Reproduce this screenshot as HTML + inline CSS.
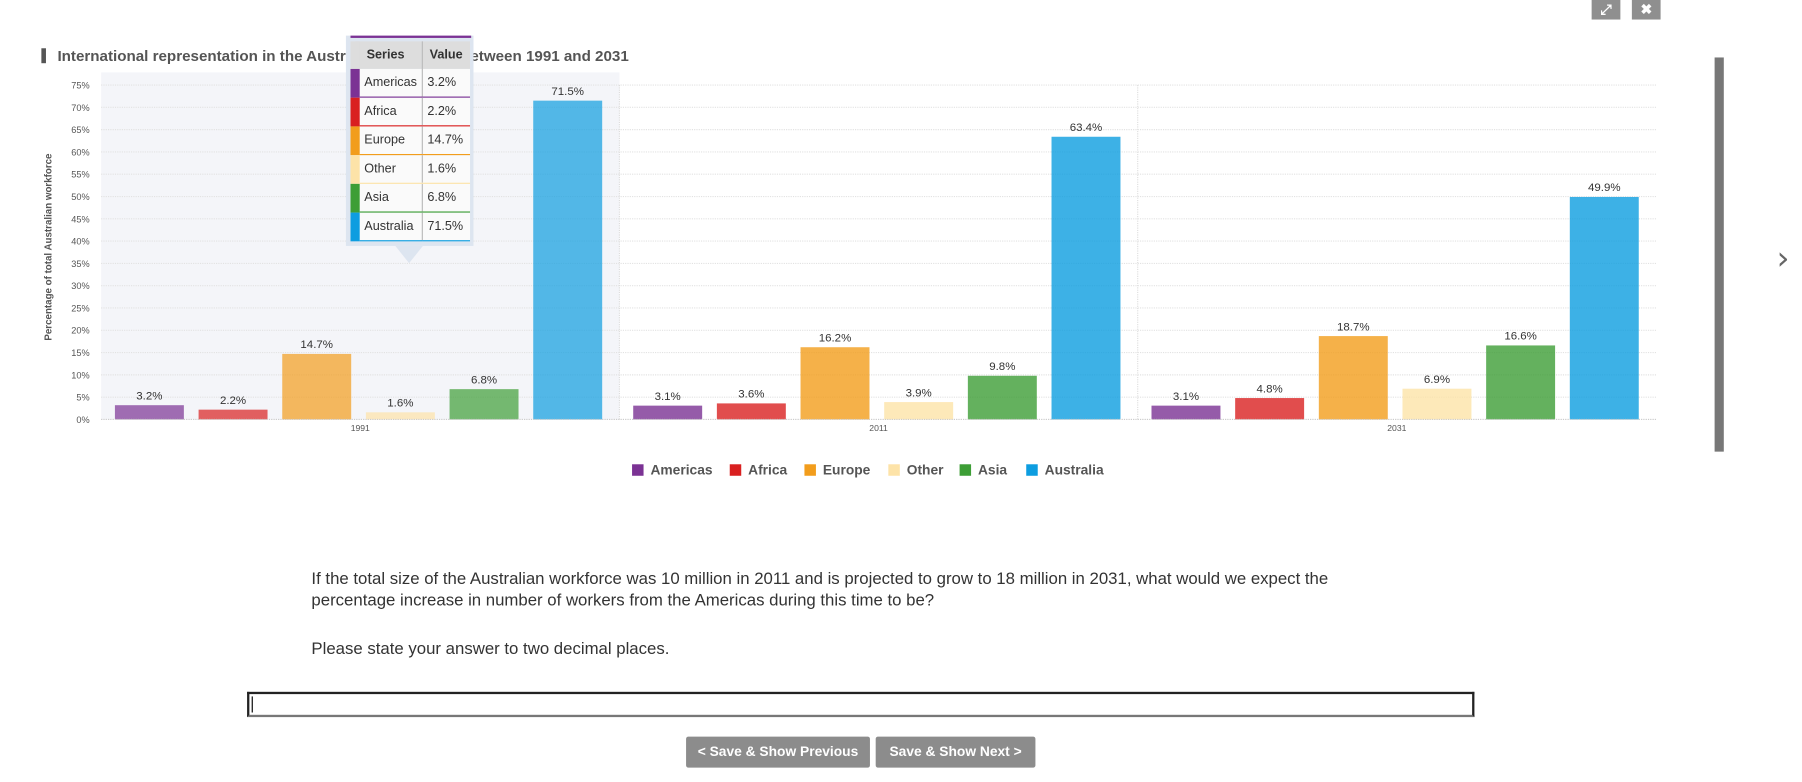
<!DOCTYPE html>
<html><head><meta charset="utf-8"><style>
html,body{margin:0;padding:0;background:#fff;width:1802px;height:782px;overflow:hidden}
#wrap{position:absolute;left:0;top:0;width:1568px;height:680px;transform:scale(1.1492);transform-origin:0 0;font-family:"Liberation Sans",sans-serif}
.abs{position:absolute}
.topbtn{position:absolute;top:0;width:25px;height:17px;background:#8f8f8f;color:#fff;font-size:12px;text-align:center;line-height:17px;font-weight:bold}
.q{position:absolute;left:271px;font-size:14.6px;color:#333;line-height:19px}
.btn{position:absolute;top:641px;height:27px;background:#8c8c8c;color:#fff;font-weight:bold;font-size:12px;line-height:27px;text-align:center;border-radius:2px}
.leg{position:absolute;top:402px;font-size:12px;font-weight:bold;color:#555}
.leg span{display:inline-block;width:10px;height:10px;vertical-align:-1px;margin-right:6px}
#tip{position:absolute;left:301px;top:31px;width:111px;height:183px;background:#dde5f0}
#tip table{position:absolute;left:4px;top:5px;border-collapse:collapse;font-size:11px;color:#333}
#tip td{height:24px;padding:0 4px;background:#fafafa;border-left:1px solid #bbb}
#tip th{height:24px;background:#ddd;font-weight:bold;text-align:left;padding:0 6px;border-left:1px solid #bbb}
</style></head><body>
<div id="wrap">
<div class="topbtn" style="left:1385px">⤢</div>
<div class="topbtn" style="left:1420px">✖</div>
<div class="abs" style="left:36px;top:42px;width:4px;height:13px;background:#555"></div>
<div class="abs" style="left:50px;top:41px;font-size:13.2px;font-weight:bold;color:#555;white-space:nowrap">International representation in the Australian workforce between 1991 and 2031</div>
<svg id="chart" class="abs" style="left:0;top:0" width="1480" height="400"></svg>
<div id="tip">
<div class="abs" style="left:4px;top:0;width:105px;height:2px;background:#7b3294"></div>
<table>
<tr><th style="border-left:8px solid #ddd">Series</th><th>Value</th></tr>
<tr><td style="border-left:8px solid #7b3294;border-bottom:1px solid #7b3294">Americas</td><td style="border-bottom:1px solid #7b3294">3.2%</td></tr>
<tr><td style="border-left:8px solid #d92020;border-bottom:1px solid #d92020">Africa</td><td style="border-bottom:1px solid #d92020">2.2%</td></tr>
<tr><td style="border-left:8px solid #f29d1c;border-bottom:1px solid #f29d1c">Europe</td><td style="border-bottom:1px solid #f29d1c">14.7%</td></tr>
<tr><td style="border-left:8px solid #fde3a8;border-bottom:1px solid #fde3a8">Other</td><td style="border-bottom:1px solid #fde3a8">1.6%</td></tr>
<tr><td style="border-left:8px solid #3d9e36;border-bottom:1px solid #3d9e36">Asia</td><td style="border-bottom:1px solid #3d9e36">6.8%</td></tr>
<tr><td style="border-left:8px solid #0d9de0;border-bottom:1px solid #0d9de0">Australia</td><td style="border-bottom:1px solid #0d9de0">71.5%</td></tr>
</table>
<div class="abs" style="left:43px;top:183px;width:0;height:0;border-left:12px solid transparent;border-right:12px solid transparent;border-top:15px solid #dde5f0"></div>
</div>
<div class="leg" style="left:550px"><span style="background:#7b3294"></span>Americas</div>
<div class="leg" style="left:635px"><span style="background:#d92020"></span>Africa</div>
<div class="leg" style="left:700px"><span style="background:#f29d1c"></span>Europe</div>
<div class="leg" style="left:773px"><span style="background:#fde3a8"></span>Other</div>
<div class="leg" style="left:835px"><span style="background:#3d9e36"></span>Asia</div>
<div class="leg" style="left:893px"><span style="background:#0d9de0"></span>Australia</div>
<div class="abs" style="left:1492px;top:50px;width:8px;height:343px;background:#777"></div>
<div class="abs" style="left:1546px;top:208px;font-size:28px;color:#666;font-family:'DejaVu Sans',sans-serif">›</div>
<div class="q" style="top:495px">If the total size of the Australian workforce was 10 million in 2011 and is projected to grow to 18 million in 2031, what would we expect the<br>percentage increase in number of workers from the Americas during this time to be?</div>
<div class="q" style="top:556px">Please state your answer to two decimal places.</div>
<div class="abs" style="left:215px;top:602px;width:1064px;height:18px;border:2px solid #222;border-bottom-color:#777"><div style="position:absolute;left:2px;top:2px;width:1px;height:14px;background:#000"></div></div>
<div class="btn" style="left:597px;width:160px">&lt; Save &amp; Show Previous</div>
<div class="btn" style="left:762px;width:139px">Save &amp; Show Next &gt;</div>
</div>
<script>
const categories=["1991","2011","2031"];
const seriesNames=["Americas","Africa","Europe","Other","Asia","Australia"];
const americas=[3.2,3.1,3.1];
const africa=[2.2,3.6,4.8];
const europe=[14.7,16.2,18.7];
const other=[1.6,3.9,6.9];
const asia=[6.8,9.8,16.6];
const australia=[71.5,63.4,49.9];
const yTicks=[0,5,10,15,20,25,30,35,40,45,50,55,60,65,70,75];
const colors=["#7b3294","#d92020","#f29d1c","#fde3a8","#3d9e36","#0d9de0"];
const series=[americas,africa,europe,other,asia,australia];
const NS="http://www.w3.org/2000/svg";
const svg=document.getElementById('chart');
const X0=88,X1=1441,Y0=365,Y75=74;
const y=v=>Y0-(v/75)*(Y0-Y75);
const gw=(X1-X0)/categories.length;
const x=(g,s)=>X0+g*gw+12+s*72.8;
function mk(t,a){const e=document.createElementNS(NS,t);for(const k in a)e.setAttribute(k,a[k]);svg.appendChild(e);return e;}
let hl=mk('rect',{x:X0,y:63,width:gw,height:Y0-63,fill:'#f4f5f9'});


yTicks.forEach(t=>{
 let l=mk('line',{x1:X0,x2:X1,y1:y(t),y2:y(t),stroke:'#e2e2e2','stroke-dasharray':'1,1'});
 
 
 let tx=mk('text',{x:78,y:y(t)+3,'text-anchor':'end','font-size':8,fill:'#555'});
 tx.textContent=t+'%';
 
 
});
for(let g=1;g<categories.length;g++){
 let l=mk('line',{x1:X0+g*gw,x2:X0+g*gw,y1:74,y2:Y0,stroke:'#ddd','stroke-dasharray':'1,1'});
 
 
}
let yt=mk('text',{x:0,y:0,transform:'translate(45,215) rotate(-90)','text-anchor':'middle','font-size':8.5,'font-weight':'bold',fill:'#555'});
yt.textContent='Percentage of total Australian workforce';


categories.forEach((c,g)=>{
 let ct=mk('text',{x:X0+g*gw+gw/2,y:375,'text-anchor':'middle','font-size':7.5,fill:'#555'});
 ct.textContent=c;
 
 
 series.forEach((s,i)=>{
  const v=s[g];
  let r=mk('rect',{x:x(g,i),y:y(v),width:60,height:Y0-y(v),fill:colors[i],opacity:g==0?0.7:0.8});
  
  
  let lt=mk('text',{x:x(g,i)+30,y:y(v)-5,'text-anchor':'middle','font-size':10,fill:'#333'});
  lt.textContent=v.toFixed(1)+'%';
  
  
 });
});
let ax=mk('line',{x1:X0,x2:X1,y1:Y0,y2:Y0,stroke:'#ccc','stroke-dasharray':'1,1'});


</script>
</body></html>
